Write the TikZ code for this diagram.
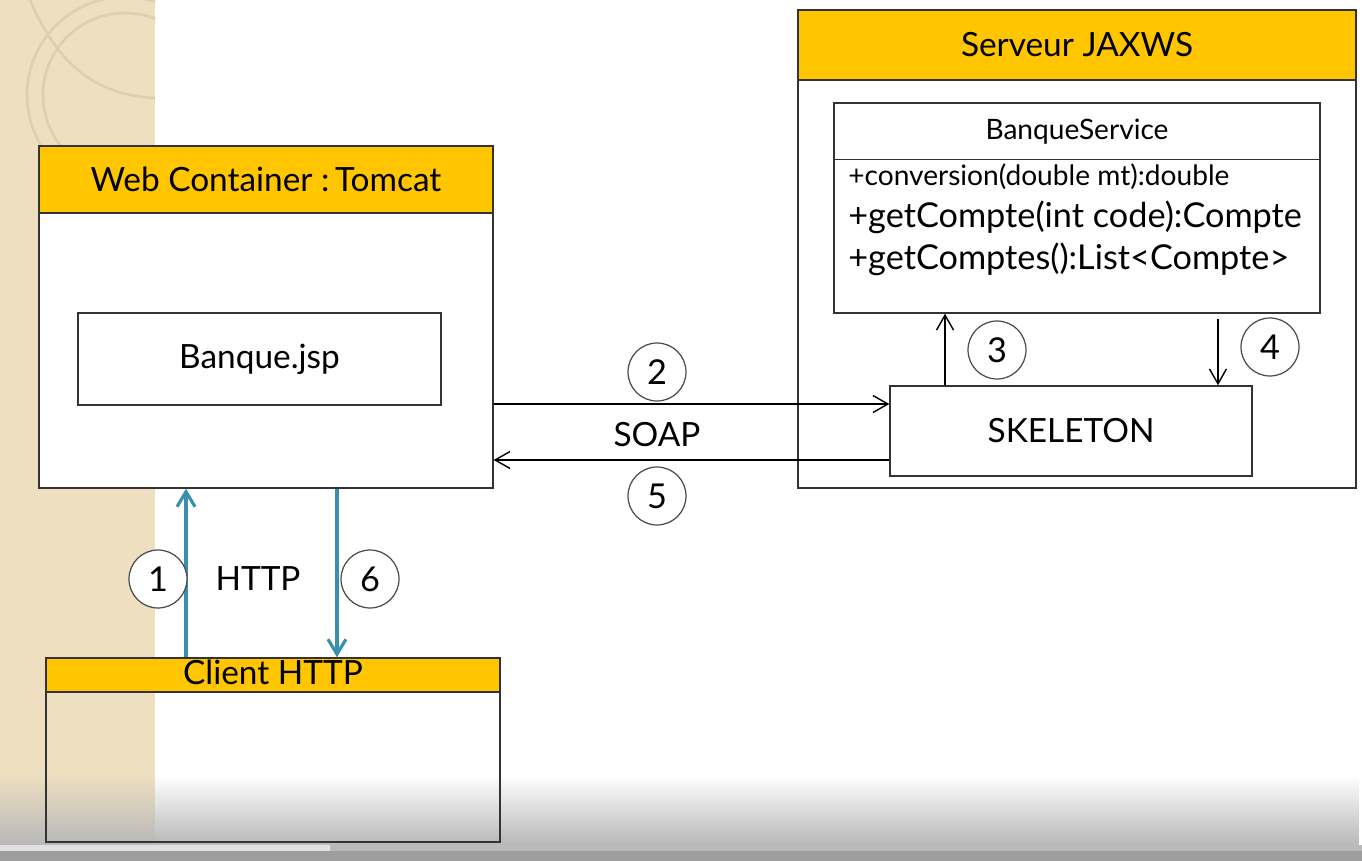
\documentclass[tikz,border=0pt]{standalone}
\usepackage{fontspec}
\setmainfont{Lato}
\usetikzlibrary{arrows.meta,fadings}

\definecolor{headyellow}{HTML}{FFC600}
\definecolor{slidebeige}{HTML}{EEDFC1}
\definecolor{slideline}{HTML}{E0CFAE}
\definecolor{httpblue}{HTML}{3A8EAE}

\begin{document}
\begin{tikzpicture}[x=0.02cm,y=-0.02cm,
        box/.style={draw=black!80, line width=0.8pt, fill=white, inner sep=0pt},
        header/.style={draw=black!80, line width=0.8pt, fill=headyellow, inner sep=0pt, font=\fontsize{19}{22}\selectfont},
        numcircle/.style={circle, draw=black!70, line width=0.7pt, fill=white, minimum size=1.16cm, inner sep=0pt, font=\fontsize{19.5}{22}\selectfont},
        arr/.style={-{Straight Barb[length=3mm,width=3.4mm]}, line width=0.8pt},
        httparr/.style={-{Straight Barb[length=3mm,width=3.6mm]}, draw=httpblue, line width=1.8pt}]
        \useasboundingbox (0,0) rectangle (1362,861);
        % slide background
        \fill[slidebeige] (0,0) rectangle (155,861);
        \begin{scope}
                \clip (0,0) rectangle (155,861);
                \draw[slideline, line width=1.5pt] (125,95) circle (98) (125,95) circle (82);
                \draw[slideline, line width=1.5pt] (30,0) .. controls (60,70) and (100,95) .. (155,98);
        \end{scope}
        \fill[black!28, path fading=north] (0,775) rectangle (1362,845);
        \fill[black!27] (0,845) rectangle (1362,851);
        \fill[black!12] (0,845) rectangle (330,851);
        \fill[black!38] (0,851) rectangle (1362,861);

        % web container
        \node[box, minimum width=9.08cm, minimum height=6.84cm] (web) at (266,317) {};
        \node[header, anchor=north, minimum width=9.08cm, minimum height=1.34cm] (webhead) at (web.north) {Web Container :\,Tomcat};
        \node[box, minimum width=7.26cm, minimum height=1.84cm, font=\fontsize{19}{22}\selectfont] (jsp) at (259.5,359) {Banque.jsp};

        % serveur
        \node[box, minimum width=11.16cm, minimum height=9.56cm] (srv) at (1077,249) {};
        \node[header, anchor=north, minimum width=11.16cm, minimum height=1.4cm] (srvhead) at (srv.north) {Serveur JAXWS};
        \node[box, minimum width=9.72cm, minimum height=4.2cm] (svc) at (1077,208) {};
        \node[font=\fontsize{16}{19}\selectfont] (svcname) at (1077,132) {BanqueService};
        \draw[black!80, line width=0.8pt] ([yshift=-1.14cm]svc.north west) -- ([yshift=-1.14cm]svc.north east);
        \node[anchor=base west, inner sep=0pt, font=\fontsize{16}{19}\selectfont] (m1) at (848,186) {+conversion(double mt):double};
        \node[anchor=base west, inner sep=0pt, font=\fontsize{19.5}{22}\selectfont] (m2) at (848,228) {+getCompte(int code):Compte};
        \node[anchor=base west, inner sep=0pt, font=\fontsize{19.5}{22}\selectfont] (m3) at (848,270) {+getComptes():List<Compte>};
        \node[box, minimum width=7.24cm, minimum height=1.8cm, font=\fontsize{19}{22}\selectfont] (skel) at (1071,431) {SKELETON};

        % client
        \node[draw=black!80, line width=0.8pt, minimum width=9.08cm, minimum height=3.68cm] (client) at (273,750) {};
        \node[header, anchor=north, minimum width=9.08cm, minimum height=0.68cm, text height=0.46cm, text depth=0.1cm] (clienthead) at (client.north) {Client HTTP};

        % soap
        \draw[arr] ([yshift=0.54cm]skel.west -| web.east) -- ([yshift=0.54cm]skel.west);
        \draw[arr] ([yshift=-0.58cm]skel.west) -- ([yshift=-0.58cm]skel.west -| web.east);
        \node[font=\fontsize{19}{22}\selectfont] (soap) at (657,435) {SOAP};
        \node[numcircle] (c2) at (657,372) {2};
        \node[numcircle] (c5) at (657,496) {5};

        % skeleton <-> service
        \coordinate (a3) at ([xshift=-2.52cm]skel.north);
        \coordinate (a4) at ([xshift=2.94cm]skel.north);
        \draw[arr] (a3) -- (a3 |- svc.south);
        \draw[arr] (a4 |- svc.south) ++(0,5) -- (a4);
        \node[numcircle] (c3) at (997,350) {3};
        \node[numcircle] (c4) at (1270,347) {4};

        % http
        \coordinate (h1) at ([xshift=-1.74cm]client.north);
        \coordinate (h6) at ([xshift=1.28cm]client.north);
        \draw[httparr] (h1) -- (h1 |- web.south);
        \draw[httparr] (h6 |- web.south) -- (h6);
        \node[font=\fontsize{19}{22}\selectfont] (http) at (258,579) {HTTP};
        \node[numcircle] (c1) at (158,579) {1};
        \node[numcircle] (c6) at (370,579) {6};
\end{tikzpicture}
\end{document}
